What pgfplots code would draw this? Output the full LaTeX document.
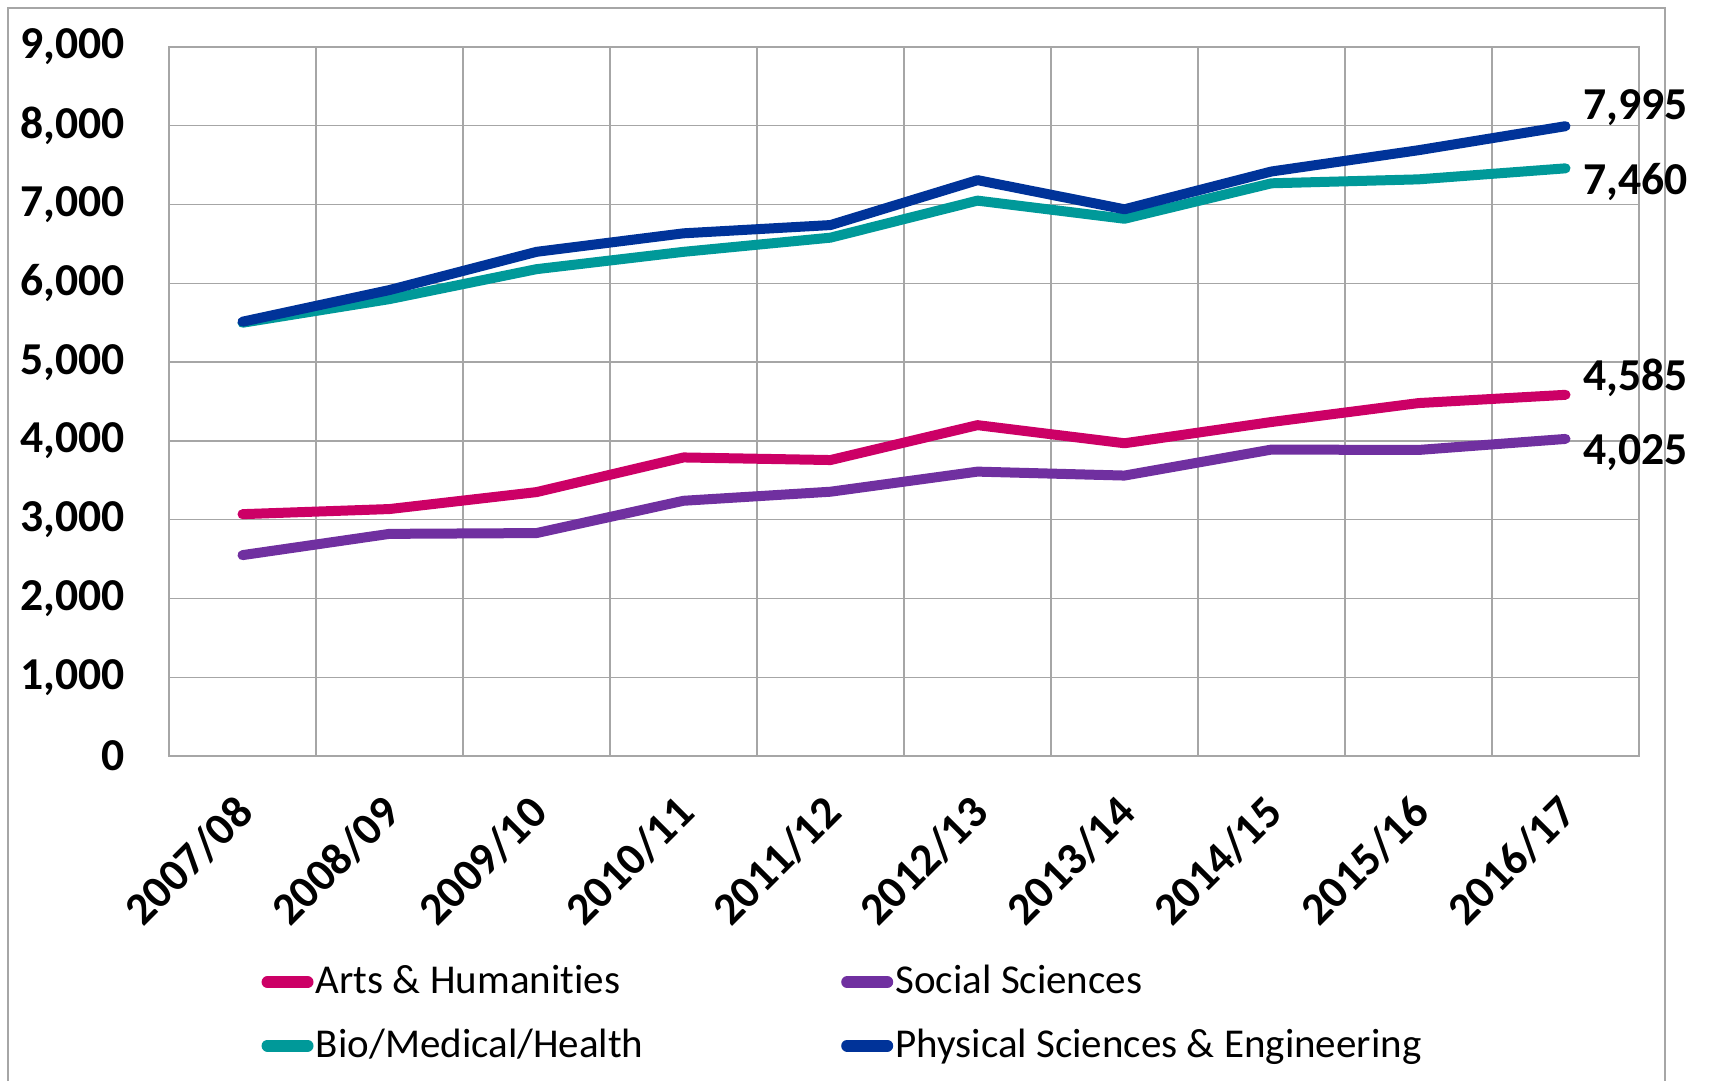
\documentclass[border=0pt]{standalone}
\usepackage{pgfplots}
\pgfplotsset{compat=1.18}
\usepackage{fontspec}
\setmainfont[Ligatures=NoCommon]{Carlito}
\definecolor{arts}{HTML}{CC0066}
\definecolor{social}{HTML}{7030A0}
\definecolor{bio}{HTML}{009999}
\definecolor{phys}{HTML}{003399}
\definecolor{gridc}{HTML}{A6A6A6}
\begin{document}
\begin{tikzpicture}
\useasboundingbox (0,0) rectangle (512.7pt,324.3pt);
\draw[gridc, line width=0.6pt] (2.4pt,0pt) -- (2.4pt,321.9pt) -- (499.5pt,321.9pt) -- (499.5pt,0pt);
\begin{axis}[
  at={(50.7pt,97.5pt)}, anchor=south west,
  scale only axis, width=441pt, height=212.7pt,
  clip=false,
  xmin=-0.5, xmax=9.5, ymin=0, ymax=9000,
  xtick={0,...,9},
  xticklabels={2007/08,2008/09,2009/10,2010/11,2011/12,2012/13,2013/14,2014/15,2015/16,2016/17},
  minor xtick={0.5,1.5,...,8.5},
  xminorgrids, ymajorgrids,
  ytick={0,1000,...,9000},
  major tick length=0pt, minor tick length=0pt,
  grid style={gridc, line width=0.4pt},
  minor grid style={gridc, line width=0.4pt},
  axis line style={gridc, line width=0.4pt},
  /pgf/number format/assume math mode=true,
  /pgf/number format/1000 sep={,},
  scaled y ticks=false,
  yticklabel style={font=\fontsize{13.7}{15}\selectfont\bfseries, anchor=east, xshift=-9.7pt},
  xticklabel style={font=\fontsize{13.7}{15}\selectfont\bfseries, rotate=45, anchor=east, yshift=-10.9pt, xshift=-6.3pt},
  legend columns=2,
  legend cell align=left,
  legend style={draw=none, fill=none, at={(0.0625,-0.285)}, anchor=north west,
    font=\fontsize{12.3}{14}\selectfont, row sep=5pt, inner sep=0pt,
    /tikz/every odd column/.append style={column sep=0pt}},
  legend image code/.code={\draw[line width=3.6pt, line cap=round] (0pt,0pt) -- (12pt,0pt);},
  every axis plot/.append style={line width=3pt, line join=round, line cap=round},
]
\addplot[arts] coordinates {(0,3070) (1,3135) (2,3350) (3,3790) (4,3757) (5,4200) (6,3970) (7,4240) (8,4480) (9,4585)}
  node[pos=1, anchor=west, text=black, font=\fontsize{13.7}{15}\selectfont\bfseries, xshift=0.5pt, yshift=5.2pt] {4,585};
\addlegendentry{\hspace*{-1.3pt}\makebox[155.6pt][l]{Arts \& Humanities}}
\addplot[social] coordinates {(0,2550) (1,2820) (2,2830) (3,3240) (4,3355) (5,3610) (6,3560) (7,3890) (8,3885) (9,4025)}
  node[pos=1, anchor=west, text=black, font=\fontsize{13.7}{15}\selectfont\bfseries, xshift=0.5pt, yshift=-4.2pt] {4,025};
\addlegendentry{\hspace*{-1.3pt}Social Sciences}
\addplot[bio] coordinates {(0,5500) (1,5800) (2,6180) (3,6400) (4,6580) (5,7050) (6,6820) (7,7270) (8,7320) (9,7460)}
  node[pos=1, anchor=west, text=black, font=\fontsize{13.7}{15}\selectfont\bfseries, xshift=0.5pt, yshift=-4.2pt] {7,460};
\addlegendentry{\hspace*{-1.3pt}\makebox[155.6pt][l]{Bio/Medical/Health}}
\addplot[phys] coordinates {(0,5513) (1,5915) (2,6400) (3,6635) (4,6740) (5,7310) (6,6940) (7,7420) (8,7690) (9,7995)}
  node[pos=1, anchor=west, text=black, font=\fontsize{13.7}{15}\selectfont\bfseries, xshift=0.5pt, yshift=5.7pt] {7,995};
\addlegendentry{\hspace*{-1.3pt}Physical Sciences \& Engineering}
\end{axis}
\end{tikzpicture}
\end{document}
